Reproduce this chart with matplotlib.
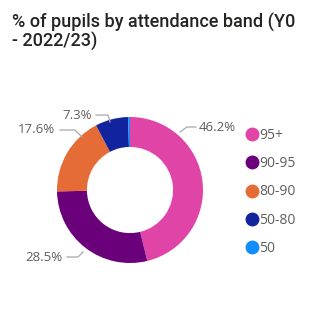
import matplotlib.pyplot as plt
from matplotlib.lines import Line2D

# data
bands = ["95+", "90-95", "80-90", "50-80", "50"]
shares = [46.2, 28.5, 17.6, 7.3, 0.4]
labels = ["46.2%", "28.5%", "17.6%", "7.3%", ""]
colors = ["#E044A7", "#6B007B", "#E66C37", "#12239E", "#118DFF"]

# leader line layout (data units, radius 1 = outer ring)
leaders = {
    "46.2%": ([(0.685, 0.795), (0.78, 0.863), (0.904, 0.863)], 0.945, "left"),
    "28.5%": ([(-0.644, -0.849), (-0.712, -0.918), (-0.863, -0.918)], -0.93, "right"),
    "17.6%": ([(-0.658, 0.726), (-0.753, 0.822), (-0.959, 0.822)], -1.027, "right"),
    "7.3%": ([(-0.274, 0.932), (-0.301, 1.027), (-0.466, 1.027)], -0.52, "right"),
}

W, H = 315, 322
fig = plt.figure(figsize=(W / 100, H / 100), dpi=100)
fig.patch.set_facecolor("white")

# donut centred at (130, 190) px, radius 73 px
half = 100
ax = fig.add_axes([(130 - half) / W, (H - 190 - half) / H, 2 * half / W, 2 * half / H])
ax.pie(shares, colors=colors, startangle=90, counterclock=False,
       radius=1, wedgeprops=dict(width=0.41, linewidth=0))
lim = half / 73
ax.set_xlim(-lim, lim)
ax.set_ylim(-lim, lim)
ax.set_aspect("equal")
ax.axis("off")

for lab in labels:
    if not lab:
        continue
    pts, tx, ha = leaders[lab]
    xs, ys = zip(*pts)
    ax.plot(xs, ys, color="#A8A8A8", lw=0.9, clip_on=False)
    ax.text(tx, ys[-1], lab, ha=ha, va="center", fontsize=9.5, color="#605E5C",
            family="Open Sans", clip_on=False)

fig.text(12 / W, 1 - 13 / H, "% of pupils by attendance band (Y0\n- 2022/23)",
         ha="left", va="top", fontsize=13, color="#252423",
         family="Roboto", weight="medium", linespacing=1.0)

handles = [Line2D([], [], marker="o", ls="", color=c, markersize=9) for c in colors]
leg = fig.legend(handles, bands, loc="upper left",
                 bbox_to_anchor=(248 / W, 1 - 128 / H), frameon=False,
                 handlelength=0.6, handletextpad=0.2, labelspacing=0.95,
                 borderaxespad=0, borderpad=0,
                 prop=dict(family="Open Sans", size=10))
for t in leg.get_texts():
    t.set_color("#605E5C")

fig.savefig("out.png", dpi=100, facecolor="white")
